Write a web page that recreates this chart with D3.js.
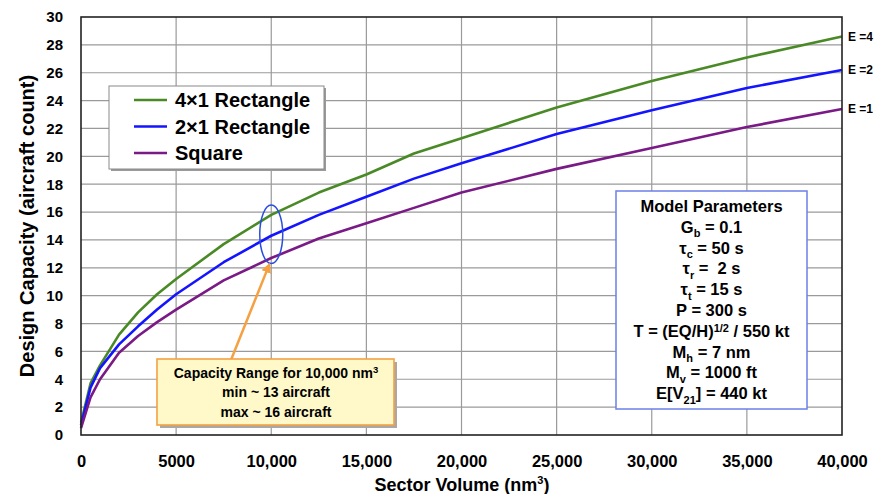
<!DOCTYPE html>
<html>
<head>
<meta charset="utf-8">
<script src="https://cdn.jsdelivr.net/npm/d3@7"></script>
<style>
  body { margin: 0; background: #fff; }
  text { font-family: "Liberation Sans", Arial, sans-serif; font-weight: bold; fill: #000; white-space: pre; }
  .narrow { font-family: "Liberation Sans Narrow", "Arial Narrow", "Liberation Sans", sans-serif; }
</style>
</head>
<body>
<svg id="chart" width="876" height="494"></svg>
<script>
// sector volume (nm^3)
var volumes = [0, 500, 1000, 2000, 3000, 4000, 5000, 7500, 10000, 12500, 15000, 17500, 20000, 25000, 30000, 35000, 40000];
// design capacity for each sector shape
var rect4x1 = [0.9, 3.7, 5.0, 7.2, 8.8, 10.1, 11.2, 13.7, 15.8, 17.4, 18.7, 20.2, 21.3, 23.5, 25.4, 27.1, 28.6];
var rect2x1 = [0.7, 3.4, 4.8, 6.5, 7.8, 9.0, 10.1, 12.4, 14.3, 15.8, 17.1, 18.4, 19.5, 21.6, 23.3, 24.9, 26.2];
var square  = [0.5, 2.7, 4.0, 5.9, 7.1, 8.1, 9.0, 11.1, 12.7, 14.1, 15.2, 16.3, 17.4, 19.1, 20.6, 22.1, 23.4];

var seriesNames = ["4\u00d71 Rectangle", "2\u00d71 Rectangle", "Square"];
var seriesColors = ["#4a8a26", "#1414ff", "#7a1a86"];
var endLabels = ["E =4", "E =2", "E =1"];

var xTicks = [0, 5000, 10000, 15000, 20000, 25000, 30000, 35000, 40000];
var xTickLabels = ["0", "5000", "10,000", "15,000", "20,000", "25,000", "30,000", "35,000", "40,000"];
var yTicks = [0, 2, 4, 6, 8, 10, 12, 14, 16, 18, 20, 22, 24, 26, 28, 30];

// annotation: capacity range at 10,000 nm^3
var rangeVolume = 10000;
var rangeMin = 12.3, rangeMax = 16.5;

var width = 876, height = 494;
var margin = {left: 81, right: 34, top: 17, bottom: 59};

var svg = d3.select("#chart");

var xScale = d3.scaleLinear()
    .domain([0, 40000])
    .range([margin.left, width - margin.right]);

var yScale = d3.scaleLinear()
    .domain([0, 30])
    .range([height - margin.bottom, margin.top]);

// grid
var grid = svg.append("g");
grid.selectAll("line.gx").data(xTicks.slice(1, -1)).enter()
    .append("line")
    .attr("x1", function(d) { return xScale(d); })
    .attr("x2", function(d) { return xScale(d); })
    .attr("y1", yScale(0)).attr("y2", yScale(30))
    .attr("stroke", "#9a9a9a").attr("stroke-width", 1.2);
grid.selectAll("line.gy").data(yTicks.slice(1, -1)).enter()
    .append("line")
    .attr("x1", xScale(0)).attr("x2", xScale(40000))
    .attr("y1", function(d) { return yScale(d); })
    .attr("y2", function(d) { return yScale(d); })
    .attr("stroke", "#9a9a9a").attr("stroke-width", 1.2);

// axes (labels only, frame drawn as rect)
var xAxis = d3.axisBottom(xScale)
    .tickValues(xTicks)
    .tickFormat(function(d, i) { return xTickLabels[i]; })
    .tickSize(0).tickPadding(20);
svg.append("g")
    .attr("transform", "translate(0," + yScale(0) + ")")
    .call(xAxis)
    .call(function(g) { g.select(".domain").remove(); })
    .selectAll("text")
    .attr("class", "narrow")
    .style("font-size", "16.5px")
    .style("font-family", "'Liberation Sans Narrow', 'Arial Narrow', sans-serif")
    .style("font-weight", "bold");

var yAxis = d3.axisLeft(yScale)
    .tickValues(yTicks)
    .tickSize(0).tickPadding(18);
svg.append("g")
    .attr("transform", "translate(" + xScale(0) + ",0)")
    .call(yAxis)
    .call(function(g) { g.select(".domain").remove(); })
    .selectAll("text")
    .style("font-size", "15px")
    .style("font-family", "'Liberation Sans', Arial, sans-serif")
    .style("font-weight", "bold");

// series
var allSeries = [rect4x1, rect2x1, square];
var line = d3.line()
    .x(function(d, i) { return xScale(volumes[i]); })
    .y(function(d) { return yScale(d); });

svg.append("g").selectAll("path").data(allSeries).enter()
    .append("path")
    .attr("d", line)
    .attr("fill", "none")
    .attr("stroke", function(d, i) { return seriesColors[i]; })
    .attr("stroke-width", 2.6)
    .attr("stroke-linejoin", "round");

// plot frame
svg.append("rect")
    .attr("x", xScale(0)).attr("y", yScale(30))
    .attr("width", xScale(40000) - xScale(0))
    .attr("height", yScale(0) - yScale(30))
    .attr("fill", "none").attr("stroke", "#222").attr("stroke-width", 1.6);

// E labels at the end of each curve
svg.append("g").selectAll("text").data(allSeries).enter()
    .append("text")
    .attr("x", xScale(40000) + 6)
    .attr("y", function(d) { return yScale(d[d.length - 1]) + 4; })
    .style("font-size", "12px")
    .text(function(d, i) { return endLabels[i]; });

// axis titles
svg.append("text")
    .attr("transform", "translate(34," + ((yScale(0) + yScale(30)) / 2) + ") rotate(-90)")
    .attr("text-anchor", "middle")
    .style("font-size", "20px")
    .text("Design Capacity (aircraft count)");

var xTitle = svg.append("text")
    .attr("class", "narrow")
    .attr("x", 462).attr("y", 491)
    .attr("text-anchor", "middle")
    .style("font-size", "18px");
xTitle.append("tspan").text("Sector Volume (nm");
xTitle.append("tspan").attr("dy", -7).style("font-size", "11px").text("3");
xTitle.append("tspan").attr("dy", 7).text(")");

// legend
var legend = svg.append("g");
legend.append("rect")
    .attr("x", 111).attr("y", 88).attr("width", 215).attr("height", 83)
    .attr("fill", "#9a9a9a");
legend.append("rect")
    .attr("x", 109).attr("y", 86).attr("width", 215).attr("height", 83)
    .attr("fill", "#fff").attr("stroke", "#8a8a8a").attr("stroke-width", 1);
var legendRows = legend.selectAll("g.row").data(seriesNames).enter()
    .append("g")
    .attr("transform", function(d, i) { return "translate(0," + (100 + i * 26.5) + ")"; });
legendRows.append("line")
    .attr("x1", 134).attr("x2", 167)
    .attr("stroke", function(d, i) { return seriesColors[i]; })
    .attr("stroke-width", 2.6);
legendRows.append("text")
    .attr("x", 175).attr("y", 7)
    .style("font-size", "20px")
    .text(function(d) { return d; });

// ellipse marking the range at 10,000
svg.append("ellipse")
    .attr("cx", xScale(rangeVolume))
    .attr("cy", yScale((rangeMin + rangeMax) / 2))
    .attr("rx", 11.5)
    .attr("ry", (yScale(rangeMin) - yScale(rangeMax)) / 2)
    .attr("fill", "none").attr("stroke", "#2a4de0").attr("stroke-width", 1.5);

// callout arrow
svg.append("defs").append("marker")
    .attr("id", "arrowHead")
    .attr("viewBox", "0 0 10 10")
    .attr("refX", 8).attr("refY", 5)
    .attr("markerWidth", 4).attr("markerHeight", 4)
    .attr("orient", "auto")
    .append("path").attr("d", "M0,0 L10,5 L0,10 z").attr("fill", "#f5a042");
svg.append("line")
    .attr("x1", 231).attr("y1", 360)
    .attr("x2", xScale(rangeVolume) - 2).attr("y2", yScale(rangeMin) + 1)
    .attr("stroke", "#f5a042").attr("stroke-width", 2.5)
    .attr("marker-end", "url(#arrowHead)");

// callout box
svg.append("rect")
    .attr("x", 160).attr("y", 362).attr("width", 237).attr("height", 66)
    .attr("fill", "#a8a8a8");
svg.append("rect")
    .attr("x", 157).attr("y", 359).attr("width", 237).attr("height", 66)
    .attr("fill", "#fff9c9").attr("stroke", "#f5a042").attr("stroke-width", 1.6);
var callout = svg.append("g").style("font-size", "14px").attr("text-anchor", "middle");
var c1 = callout.append("text").attr("x", 276).attr("y", 378);
c1.append("tspan").text("Capacity Range for 10,000 nm");
c1.append("tspan").attr("dy", -5).style("font-size", "9.5px").text("3");
callout.append("text").attr("x", 276).attr("y", 397).text("min ~ 13 aircraft");
callout.append("text").attr("x", 276).attr("y", 417).text("max ~ 16 aircraft");

// model parameters box
svg.append("rect")
    .attr("x", 616).attr("y", 191).attr("width", 191).attr("height", 218)
    .attr("fill", "#fff").attr("stroke", "#6b80e8").attr("stroke-width", 1.5);

var params = [
    [["Model Parameters", 0]],
    [["G", 0], ["b", 1], [" = 0.1", 0]],
    [["\u03c4", 0], ["c", 1], [" = 50 s", 0]],
    [["\u03c4", 0], ["r", 1], [" =  2 s", 0]],
    [["\u03c4", 0], ["t", 1], [" = 15 s", 0]],
    [["P = 300 s", 0]],
    [["T = (EQ/H)", 0], ["1/2", -1], [" / 550 kt", 0]],
    [["M", 0], ["h", 1], [" = 7 nm", 0]],
    [["M", 0], ["v", 1], [" = 1000 ft", 0]],
    [["E[V", 0], ["21", 1], ["] = 440 kt", 0]]
];
var paramText = svg.append("g").attr("text-anchor", "middle").style("font-size", "16.5px");
params.forEach(function(row, i) {
    var t = paramText.append("text")
        .attr("x", 711.5)
        .attr("y", 212 + i * 20.8);
    var shift = 0;
    row.forEach(function(part) {
        var dy = part[1] * 4.5 - shift;
        var ts = t.append("tspan").attr("dy", dy).text(part[0]);
        if (part[1] !== 0) ts.style("font-size", "11px");
        shift = part[1] * 4.5;
    });
});
</script>
</body>
</html>
